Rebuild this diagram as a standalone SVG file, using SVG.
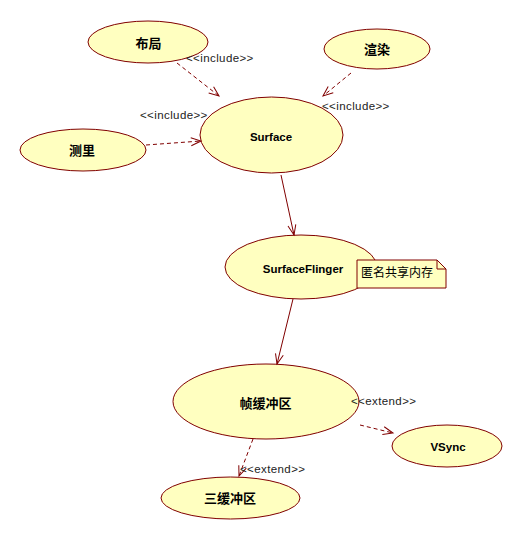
<svg xmlns="http://www.w3.org/2000/svg" width="522" height="540" viewBox="0 0 522 540">
<style>
.uc{fill:#FFFFC0;stroke:#800000;stroke-width:1}
.cjk{font-family:"Liberation Sans","Noto Sans CJK SC",sans-serif;font-weight:bold;font-size:13px;fill:#000;text-anchor:middle}
.en{font-family:"Liberation Sans","Noto Sans CJK SC",sans-serif;font-weight:bold;font-size:11.5px;fill:#000;text-anchor:middle}
.lbl{font-family:"Liberation Sans",sans-serif;font-size:11.5px;fill:#222;letter-spacing:0.4px}
.dash{fill:none;stroke:#800000;stroke-width:1;stroke-dasharray:4,3}
.solid{fill:none;stroke:#800000;stroke-width:1}
.note{fill:#FFFFC0;stroke:#800000;stroke-width:1}
.notet{font-family:"Noto Sans CJK SC",sans-serif;font-size:12px;fill:#000}
</style>
<defs>
<marker id="arr" markerUnits="userSpaceOnUse" markerWidth="14" markerHeight="12" refX="11" refY="5" orient="auto">
<path d="M1,1 L11,5 L1,9" fill="none" stroke="#800000" stroke-width="1"/>
</marker>
</defs>
<rect width="522" height="540" fill="#fff"/>
<g id="buju">
<ellipse class="uc" cx="148" cy="42" rx="60" ry="21"/>
<text class="cjk" x="148.5" y="47.5">布局</text>
</g>
<g id="xuanran">
<ellipse class="uc" cx="377" cy="49" rx="53" ry="20"/>
<text class="cjk" x="377" y="54">渲染</text>
</g>
<g id="celiang">
<ellipse class="uc" cx="83" cy="150" rx="63" ry="21"/>
<text class="cjk" x="82" y="155">测里</text>
</g>
<g id="surface">
<ellipse class="uc" cx="271.5" cy="135" rx="71.5" ry="38"/>
<text class="en" x="271" y="141">Surface</text>
</g>
<g id="surfaceflinger">
<ellipse class="uc" cx="301" cy="267" rx="76" ry="32"/>
<text class="en" x="303" y="273">SurfaceFlinger</text>
</g>
<g id="note">
<path class="note" d="M357,260 L437,260 L446,269 L446,288 L357,288 Z"/>
<path class="solid" d="M437,260 L437,269 L446,269"/>
<text class="notet" x="361" y="277">匿名共享内存</text>
</g>
<g id="zhenhuanchong">
<ellipse class="uc" cx="266" cy="401.5" rx="93" ry="37.5"/>
<text class="cjk" x="265.5" y="408">帧缓冲区</text>
</g>
<g id="vsync">
<ellipse class="uc" cx="447" cy="446" rx="55" ry="21"/>
<text class="en" x="448" y="451">VSync</text>
</g>
<g id="sanhuanchong">
<ellipse class="uc" cx="230.5" cy="498" rx="69.5" ry="21"/>
<text class="cjk" x="230" y="503">三缓冲区</text>
</g>
<g id="connectors">
<path class="dash" d="M177,63 L219,96" marker-end="url(#arr)"/>
<path class="dash" d="M351,73 L323,96" marker-end="url(#arr)"/>
<path class="dash" d="M146,145 L201,141" marker-end="url(#arr)"/>
<path class="solid" d="M281,175 L294,235" marker-end="url(#arr)"/>
<path class="solid" d="M293,299 L277,364" marker-end="url(#arr)"/>
<path class="dash" d="M360,425 L393,433" marker-end="url(#arr)"/>
<path class="dash" d="M253,439 L239,476" marker-end="url(#arr)"/>
<text class="lbl" x="186" y="62">&lt;&lt;include&gt;&gt;</text>
<text class="lbl" x="140" y="119">&lt;&lt;include&gt;&gt;</text>
<text class="lbl" x="322" y="110">&lt;&lt;include&gt;&gt;</text>
<text class="lbl" x="351" y="405">&lt;&lt;extend&gt;&gt;</text>
<text class="lbl" x="240" y="473">&lt;&lt;extend&gt;&gt;</text>
</g>
</svg>
